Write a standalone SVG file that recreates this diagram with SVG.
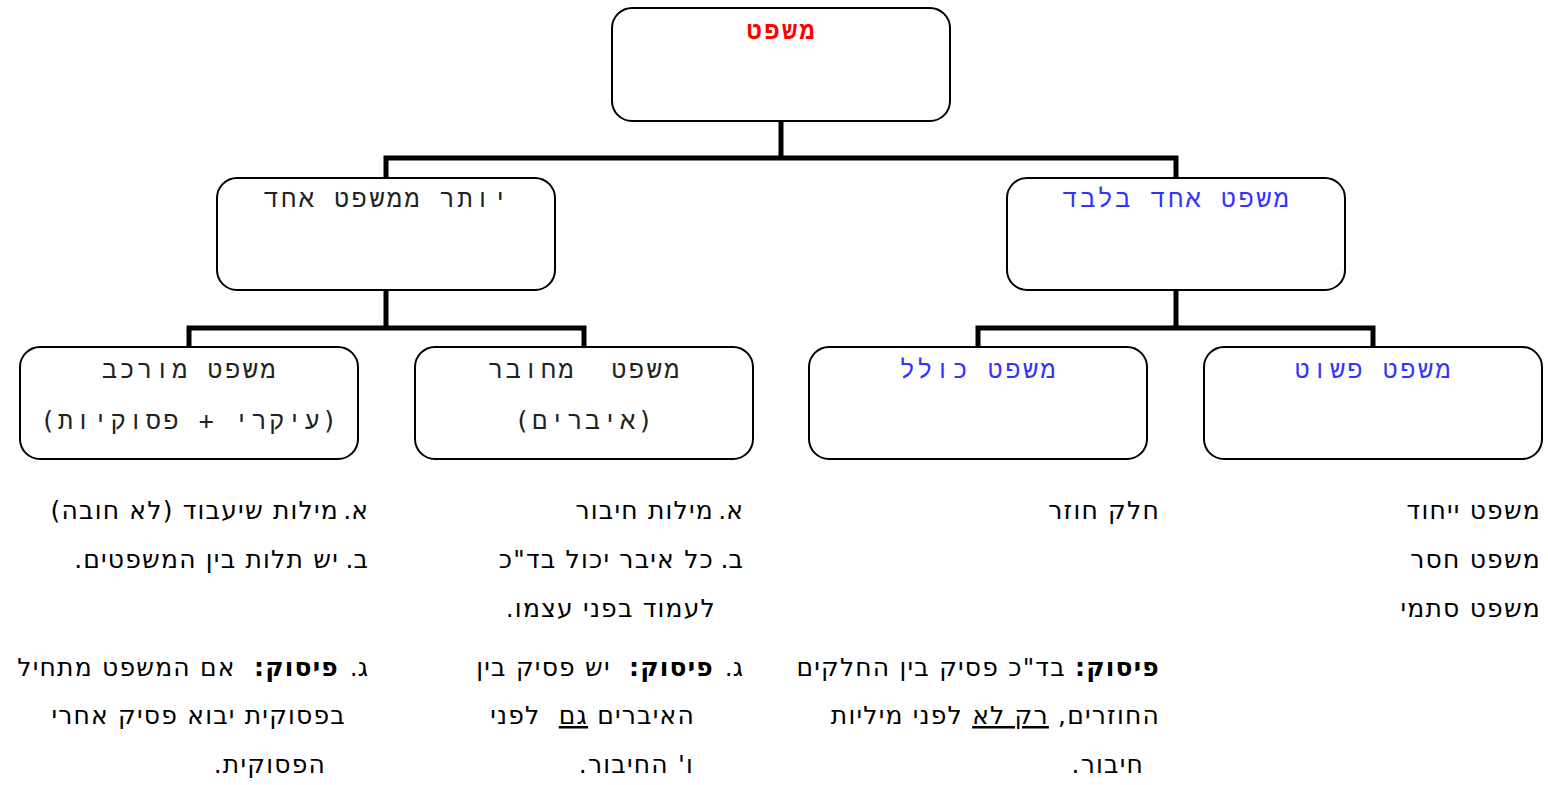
<svg xmlns="http://www.w3.org/2000/svg" width="1548" height="785" viewBox="0 0 1548 785">
<style>
.box{fill:#fff;stroke:#000;stroke-width:2}
.bt{font-family:"DejaVu Sans Mono","Liberation Mono",monospace;font-size:25px;letter-spacing:2.6px;text-anchor:middle;fill:#222}
.red{fill:#ff0000;font-weight:bold}
.blue{fill:#3333ff}
.conn{fill:none;stroke:#000;stroke-width:5;stroke-linejoin:miter;stroke-linecap:butt}
.lt{font-family:"DejaVu Sans","Noto Sans",sans-serif;font-size:25px;letter-spacing:1.2px;fill:#000;text-anchor:start}
.mk{letter-spacing:0}
.b{font-weight:bold}
.u{text-decoration:underline}
</style>
<rect width="1548" height="785" fill="#fff"/>
<g id="connectors">
<path class="conn" d="M781 121 V158 M386 178 V158 H1176 V178"/>
<path class="conn" d="M386 290 V328 M189 347 V328 H584 V347"/>
<path class="conn" d="M1176 290 V328 M978 347 V328 H1373 V347"/>
</g>
<g id="n-mishpat">
<rect class="box" x="612" y="8" width="338" height="113" rx="20"/>
<text class="bt red" x="782" y="39" direction="rtl">משפט</text>
</g>
<g id="n-yoter">
<rect class="box" x="217" y="178" width="338" height="112" rx="20"/>
<text class="bt" x="387" y="207" direction="rtl">יותר ממשפט אחד</text>
</g>
<g id="n-echad">
<rect class="box" x="1007" y="178" width="338" height="112" rx="20"/>
<text class="bt blue" x="1177" y="207" direction="rtl">משפט אחד בלבד</text>
</g>
<g id="n-murkav">
<rect class="box" x="20" y="347" width="338" height="112" rx="20"/>
<text class="bt" x="190" y="378" direction="rtl">משפט מורכב</text>
<text class="bt" x="190" y="429" direction="rtl">(עיקרי + פסוקיות)</text>
</g>
<g id="n-mechubar">
<rect class="box" x="415" y="347" width="338" height="112" rx="20"/>
<text class="bt" x="585" y="378" direction="rtl" xml:space="preserve">משפט  מחובר</text>
<text class="bt" x="585" y="429" direction="rtl">(איברים)</text>
</g>
<g id="n-kolel">
<rect class="box" x="809" y="347" width="338" height="112" rx="20"/>
<text class="bt blue" x="979" y="378" direction="rtl">משפט כולל</text>
</g>
<g id="n-pashut">
<rect class="box" x="1204" y="347" width="338" height="112" rx="20"/>
<text class="bt blue" x="1374" y="378" direction="rtl">משפט פשוט</text>
</g>
<g id="list-murkav">
<text class="lt mk" x="368" y="519" direction="rtl">א.</text>
<text class="lt" x="339" y="519" direction="rtl">מילות שיעבוד (לא חובה)</text>
<text class="lt mk" x="368" y="568" direction="rtl">ב.</text>
<text class="lt" x="339" y="568" direction="rtl">יש תלות בין המשפטים.</text>
<text class="lt mk" x="368" y="676" direction="rtl">ג.</text>
<text class="lt" x="339" y="676" direction="rtl" xml:space="preserve"><tspan class="b">פיסוק:</tspan>  אם המשפט מתחיל</text>
<text class="lt" x="346" y="724" direction="rtl">בפסוקית יבוא פסיק אחרי</text>
<text class="lt" x="326" y="773" direction="rtl">הפסוקית.</text>
</g>
<g id="list-mechubar">
<text class="lt mk" x="743" y="519" direction="rtl">א.</text>
<text class="lt" x="714" y="519" direction="rtl">מילות חיבור</text>
<text class="lt mk" x="743" y="568" direction="rtl">ב.</text>
<text class="lt" x="714" y="568" direction="rtl">כל איבר יכול בד"כ</text>
<text class="lt" x="716" y="617" direction="rtl">לעמוד בפני עצמו.</text>
<text class="lt mk" x="743" y="676" direction="rtl">ג.</text>
<text class="lt" x="714" y="676" direction="rtl" xml:space="preserve"><tspan class="b">פיסוק:</tspan>  יש פסיק בין</text>
<text class="lt" x="695" y="724" direction="rtl" xml:space="preserve">האיברים <tspan class="u">גם</tspan>  לפני</text>
<text class="lt" x="694" y="773" direction="rtl">ו' החיבור.</text>
</g>
<g id="list-kolel">
<text class="lt" x="1160" y="519" direction="rtl">חלק חוזר</text>
<text class="lt" x="1160" y="676" direction="rtl"><tspan class="b">פיסוק:</tspan> בד"כ פסיק בין החלקים</text>
<text class="lt" x="1160" y="724" direction="rtl">החוזרים, <tspan class="u">רק לא</tspan> לפני מיליות</text>
<text class="lt" x="1144" y="773" direction="rtl">חיבור.</text>
</g>
<g id="list-pashut">
<text class="lt" x="1541" y="519" direction="rtl">משפט ייחוד</text>
<text class="lt" x="1541" y="568" direction="rtl">משפט חסר</text>
<text class="lt" x="1541" y="617" direction="rtl">משפט סתמי</text>
</g>
</svg>
